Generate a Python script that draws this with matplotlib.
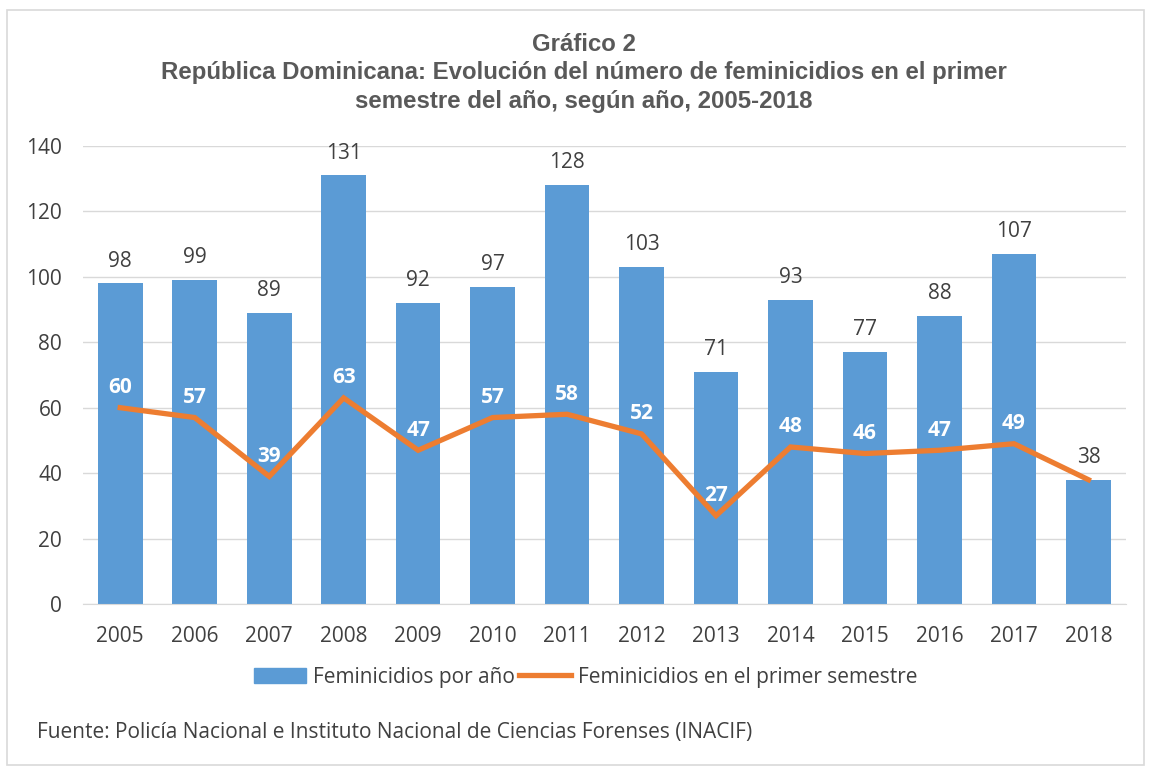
import matplotlib
matplotlib.use("Agg")
import matplotlib.pyplot as plt
from matplotlib.patches import Rectangle
from matplotlib.lines import Line2D

years = ["2005", "2006", "2007", "2008", "2009", "2010", "2011", "2012", "2013", "2014", "2015", "2016", "2017", "2018"]
por_anio = [98, 99, 89, 131, 92, 97, 128, 103, 71, 93, 77, 88, 107, 38]
primer_semestre = [60, 57, 39, 63, 47, 57, 58, 52, 27, 48, 46, 47, 49, 38]

BLUE = "#5B9BD5"
ORANGE = "#ED7D31"
TXT = "#404040"
FONT = "Open Sans"
FS = 15

fig = plt.figure(figsize=(11.51, 7.74), dpi=100)
ax = fig.add_axes([0.0721, 0.2196, 0.9059, 0.5918])

x = list(range(len(years)))
ax.bar(x, por_anio, width=0.6, color=BLUE, zorder=2)
ax.plot(x, primer_semestre, color=ORANGE, lw=3.8, zorder=3, solid_joinstyle="miter")

for xi, v in zip(x, primer_semestre):
    ax.annotate(str(v), (xi, v), xytext=(0, 7), textcoords="offset points",
                ha="center", va="bottom", fontsize=FS, color="white",
                fontweight="bold", family=FONT, zorder=4)
for xi, v in zip(x, por_anio):
    ax.annotate(str(v), (xi, v), xytext=(0, 8.5), textcoords="offset points",
                ha="center", va="bottom", fontsize=FS, color=TXT, family=FONT, zorder=5)

ax.set_xlim(-0.5, len(years) - 0.5)
ax.set_ylim(0, 140)
ax.set_yticks(range(0, 141, 20))
ax.set_xticks(x)
ax.set_xticklabels(years)
ax.grid(axis="y", color="#D9D9D9", lw=1, zorder=0)
ax.set_axisbelow(True)
for s in ["top", "right", "left"]:
    ax.spines[s].set_visible(False)
ax.spines["bottom"].set_color("#D9D9D9")
ax.tick_params(axis="both", length=0, labelsize=FS, labelcolor=TXT)
ax.tick_params(axis="x", pad=16)
ax.tick_params(axis="y", pad=15)
for lab in ax.get_xticklabels() + ax.get_yticklabels():
    lab.set_family(FONT)

fig.text(0.507, 0.943, "Gráfico 2", ha="center", va="center", fontsize=17.3,
         fontweight="bold", color="#595959", family="Liberation Sans")
fig.text(0.507, 0.8876, "República Dominicana: Evolución del número de feminicidios en el primer\nsemestre del año, según año, 2005-2018",
         ha="center", va="center", fontsize=17.3, fontweight="bold", color="#595959",
         family="Liberation Sans", linespacing=1.3)

handles = [Rectangle((0, 0), 1, 1, color=BLUE), Line2D([0], [0], color=ORANGE, lw=3.8)]
leg = fig.legend(handles, ["Feminicidios por año", "Feminicidios en el primer semestre"],
                 loc="center", bbox_to_anchor=(0.509, 0.125), ncol=2, frameon=False,
                 prop={"family": FONT, "size": FS}, handlelength=2.5, columnspacing=0.2,
                 handletextpad=0.33)
for t in leg.get_texts():
    t.set_color(TXT)

fig.text(0.032, 0.053, "Fuente: Policía Nacional e Instituto Nacional de Ciencias Forenses (INACIF)",
         ha="left", va="center", fontsize=FS, color=TXT, family=FONT)

fig.patches.append(Rectangle((0.006, 0.012), 0.988, 0.975, transform=fig.transFigure,
                             fill=False, edgecolor="#D9D9D9", lw=1.2))

fig.savefig("out.png", dpi=100)
